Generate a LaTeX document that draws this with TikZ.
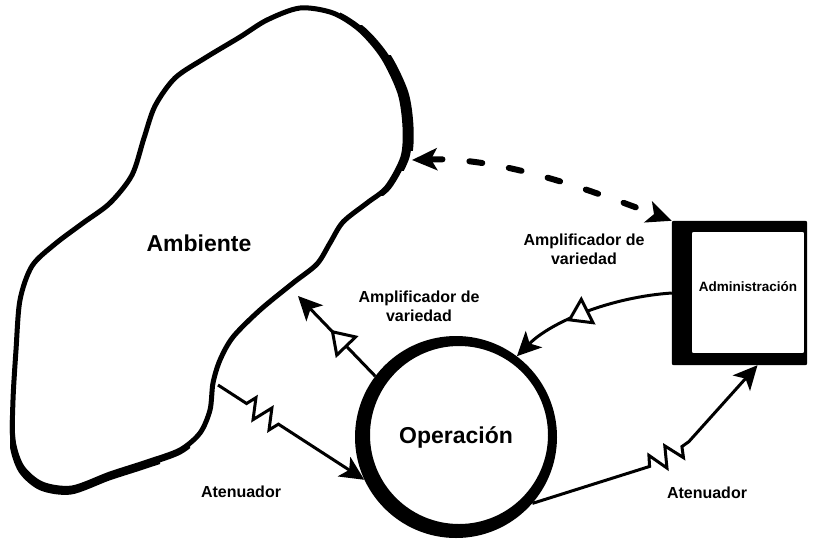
\documentclass[tikz,border=0pt]{standalone}
\usepackage{fontspec}
\setmainfont{Liberation Sans}
\usetikzlibrary{arrows.meta,decorations.pathmorphing,decorations.markings}
\tikzset{
  blob/.style       = {line width=5pt, line join=round},
  lbl/.style        = {font=\bfseries\fontsize{16}{19}\selectfont, align=center},
  bigtxt/.style     = {font=\bfseries\fontsize{23}{27}\selectfont},
  flow/.style       = {->, line width=3pt},
  amplifier/.style  = {flow, postaction={decorate},
                       decoration={markings, mark=at position #1 with
                       {\arrow{Triangle[length=24pt,width=31pt,fill=white,line width=3pt]}}}},
  attenuator/.style 2 args = {flow, decorate,
                       decoration={zigzag, segment length=19pt, amplitude=10pt,
                       pre length=#1, post length=#2}},
  dashflow/.style   = {<->, >={Stealth[length=25pt,width=22pt,inset=6pt]}, line width=6pt,
                       dash pattern=on 13pt off 27pt, line cap=round}
}
% outline of the environment
\newcommand{\ambline}[1]{\draw[blob,#1] plot[smooth cycle] coordinates {
  (300,8) (333,13) (360,30) (383,57) (400,93) (405,127) (403,157) (387,187)
  (367,203) (343,222) (330,243) (317,264) (293,283) (260,310) (233,337)
  (220,360) (213,383) (210,410) (200,433) (180,450) (147,462) (110,474)
  (72,488) (42,484) (22,467) (13,440) (13,400) (16,350) (20,300)
  (32,266) (55,244) (83,223) (110,203) (132,175) (144,138) (155,106)
  (175,78) (205,58) (240,37) (267,20)};}

\begin{document}
\begin{tikzpicture}[x=1pt,y=-1pt,>={Stealth[length=24pt,width=23pt,inset=6pt]}]
\useasboundingbox[fill=white] (0,0) rectangle (814,539);

% Ambiente
\ambline{}
\begin{scope}
  \clip (340,5) rectangle (430,195);
  \ambline{xshift=2pt}
\end{scope}
\begin{scope}
  \clip (350,25) rectangle (430,170);
  \ambline{xshift=4pt}
\end{scope}
\begin{scope}
  \clip (370,55) rectangle (430,150);
  \ambline{xshift=6pt}
\end{scope}
\begin{scope}
  \clip (0,420) rectangle (190,510);
  \ambline{yshift=-2pt}
\end{scope}
\begin{scope}
  \clip (10,440) rectangle (160,510);
  \ambline{xshift=-1pt,yshift=-4pt}
\end{scope}
\node[bigtxt] (amb) at (199,243) {Ambiente};
\coordinate (amb-dash) at (412,160);
\coordinate (amb-amp) at (298,296);
\coordinate (amb-att) at (218,385);

% Operacion
\node[circle, minimum size=202pt, inner sep=0pt, bigtxt] (op) at (456,437) {Operación};
\fill[even odd rule] (op.center) circle (101pt) ([shift={(3pt,2pt)}]op.center) circle (89pt);

% Administracion
\node[minimum width=135pt, minimum height=144pt, inner sep=0pt] (adm) at (739.5,293) {};
\fill[even odd rule, rounded corners=2pt] (adm.north west) rectangle (adm.south east)
  ([xshift=20pt,yshift=-11pt]adm.north west) rectangle ([xshift=-3pt,yshift=12pt]adm.south east);
\node[font=\bfseries\fontsize{13.5}{16}\selectfont] (admtxt) at (748,287) {Administración};

% conexiones
\draw[dashflow] (amb-dash) .. controls +(90,-3) and +(-80,-30) .. (adm.north west);
\draw[amplifier=0.58] (op.143) -- (amb-amp);
\draw[amplifier=0.64] (adm.west) .. controls +(-60,4) and +(35,-35) .. (op.53);
\draw[attenuator={34pt}{94pt}] (amb-att) -- (op.205);
\draw[attenuator={124pt}{104pt}] (op.-41) .. controls +(70,0) and +(-30,70) .. (adm.-76);

% textos
\node[lbl] (amp1) at (419,306) {Amplificador de\\variedad};
\node[lbl] (amp2) at (584,249) {Amplificador de\\variedad};
\node[lbl] (att1) at (241,492) {Atenuador};
\node[lbl] (att2) at (707,493) {Atenuador};
\end{tikzpicture}
\end{document}
